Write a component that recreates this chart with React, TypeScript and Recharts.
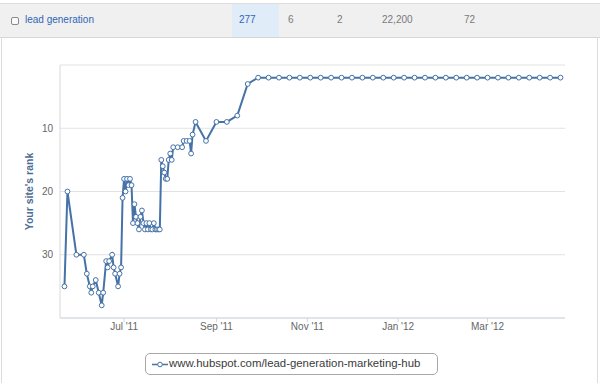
import React from 'react';
import { LineChart, Line, XAxis, YAxis, CartesianGrid } from 'recharts';

// rank history for the keyword
const DATES = [
  '2011-05-22', '2011-05-24', '2011-05-30', '2011-06-04', '2011-06-06', '2011-06-08',
  '2011-06-09', '2011-06-10', '2011-06-12', '2011-06-14', '2011-06-16', '2011-06-17',
  '2011-06-19', '2011-06-20', '2011-06-21', '2011-06-23', '2011-06-24', '2011-06-25',
  '2011-06-27', '2011-06-28', '2011-06-29', '2011-06-30', '2011-07-01', '2011-07-02',
  '2011-07-03', '2011-07-04', '2011-07-05', '2011-07-06', '2011-07-07', '2011-07-08',
  '2011-07-09', '2011-07-10', '2011-07-11', '2011-07-12', '2011-07-13', '2011-07-14',
  '2011-07-15', '2011-07-16', '2011-07-17', '2011-07-18', '2011-07-19', '2011-07-20',
  '2011-07-21', '2011-07-22', '2011-07-23', '2011-07-24', '2011-07-25', '2011-07-26',
  '2011-07-27', '2011-07-28', '2011-07-29', '2011-07-30', '2011-07-31', '2011-08-01',
  '2011-08-02', '2011-08-03', '2011-08-06', '2011-08-09', '2011-08-10', '2011-08-12',
  '2011-08-14', '2011-08-15', '2011-08-16', '2011-08-18', '2011-08-25', '2011-09-01',
  '2011-09-08', '2011-09-15', '2011-09-22', '2011-09-29', '2011-10-06', '2011-10-13',
  '2011-10-20', '2011-10-27', '2011-11-03', '2011-11-10', '2011-11-17', '2011-11-24',
  '2011-12-01', '2011-12-08', '2011-12-15', '2011-12-22', '2011-12-29', '2012-01-05',
  '2012-01-12', '2012-01-19', '2012-01-26', '2012-02-02', '2012-02-09', '2012-02-16',
  '2012-02-23', '2012-03-01', '2012-03-08', '2012-03-15', '2012-03-22', '2012-03-29',
  '2012-04-05', '2012-04-12', '2012-04-19',
];

const RANKS = [
  35, 20, 30, 30, 33, 35,
  36, 35, 34, 36, 38, 36,
  31, 32, 31, 30, 32, 33,
  35, 33, 32, 21, 18, 20,
  18, 19, 18, 19, 25, 22,
  24, 25, 26, 24, 23, 25,
  26, 25, 26, 25, 26, 26,
  25, 26, 26, 26, 26, 15,
  16, 17, 18, 18, 15, 14,
  15, 13, 13, 13, 12, 12,
  12, 14, 11, 9, 12, 9,
  9, 8, 3, 2, 2, 2,
  2, 2, 2, 2, 2, 2,
  2, 2, 2, 2, 2, 2,
  2, 2, 2, 2, 2, 2,
  2, 2, 2, 2, 2, 2,
  2, 2, 2,
];

const X_DOMAIN = ['2011-05-19', '2012-04-22'];
const X_TICKS = ['2011-07-01', '2011-09-01', '2011-11-01', '2012-01-01', '2012-03-01'];
const Y_TICKS = [10, 20, 30];
const MONTHS = ['Jan', 'Feb', 'Mar', 'Apr', 'May', 'Jun', 'Jul', 'Aug', 'Sep', 'Oct', 'Nov', 'Dec'];

const SERIES_NAME = 'www.hubspot.com/lead-generation-marketing-hub';
const KEYWORD = 'lead generation';
const ROW_VALUES = ['277', '6', '2', '22,200', '72'];

const LINE = '#4572a7';
const FONT = '"Liberation Sans", Arial, sans-serif';

const toTime = (s: string) => {
  const [y, m, d] = s.split('-').map(Number);
  return Date.UTC(y, m - 1, d);
};

const fmtMonth = (t: number) => {
  const dt = new Date(t);
  return `${MONTHS[dt.getUTCMonth()]} '${String(dt.getUTCFullYear()).slice(2)}`;
};

const data = DATES.map((d, i) => ({ t: toTime(d), rank: RANKS[i] }));

// positions of the cells in the keyword row
const CELL_X = [239, 288, 337, 382, 464];

function KeywordRow() {
  return (
    <div
      style={{
        position: 'absolute',
        top: 3,
        left: 0,
        width: 600,
        height: 33,
        background: '#f0f0f0',
        borderTop: '1px solid #dedede',
        borderBottom: '1px solid #d6d6d6',
        fontSize: 10,
      }}
    >
      <div style={{ position: 'absolute', left: 232, top: 0, width: 47, height: 33, background: '#e1ecf9' }} />
      <div
        style={{
          position: 'absolute',
          left: 11,
          top: 13,
          width: 6,
          height: 6,
          border: '1px solid #8a8a8a',
          borderRadius: 2,
          background: '#fafafa',
        }}
      />
      <span style={{ position: 'absolute', left: 25, top: 10, color: '#2f66b8' }}>{KEYWORD}</span>
      {ROW_VALUES.map((v, i) => (
        <span
          key={v + i}
          style={{ position: 'absolute', left: CELL_X[i], top: 10, color: i === 0 ? '#2f66b8' : '#7a7a7a' }}
        >
          {v}
        </span>
      ))}
    </div>
  );
}

function SeriesLegend() {
  return (
    <div
      style={{
        position: 'absolute',
        left: 145,
        top: 353,
        width: 291,
        height: 20,
        border: '1px solid #a8a8a8',
        borderRadius: 5,
        background: '#fff',
      }}
    >
      <svg width={18} height={20} style={{ position: 'absolute', left: 6, top: 0 }}>
        <line x1={0} y1={10.5} x2={16} y2={10.5} stroke={LINE} strokeWidth={1.5} />
        <circle cx={8} cy={10.5} r={2.3} fill="#fff" stroke={LINE} strokeWidth={1} />
      </svg>
      <span
        style={{
          position: 'absolute',
          left: 23,
          top: 3,
          fontSize: 11.4,
          color: '#3a3a3a',
          whiteSpace: 'nowrap',
        }}
      >
        {SERIES_NAME}
      </span>
    </div>
  );
}

export default function App() {
  return (
    <div
      style={{
        position: 'absolute',
        top: 0,
        left: 0,
        width: 600,
        height: 383,
        background: '#fff',
        overflow: 'hidden',
        fontFamily: FONT,
      }}
    >
      <KeywordRow />
      <div style={{ position: 'absolute', left: 1, top: 37, width: 1, height: 346, background: '#dcdcdc' }} />
      <div style={{ position: 'absolute', left: 597, top: 37, width: 1, height: 346, background: '#dcdcdc' }} />

      <div style={{ position: 'absolute', left: 0, top: 0 }}>
        <LineChart
          width={600}
          height={383}
          data={data}
          margin={{ top: 65, right: 35, bottom: 35, left: 0 }}
          style={{ fontFamily: FONT }}
        >
          <CartesianGrid vertical={false} stroke="#e2e2e2" />

          {/* X Axis = date */}
          <XAxis
            dataKey="t"
            type="number"
            scale="time"
            domain={[toTime(X_DOMAIN[0]), toTime(X_DOMAIN[1])]}
            ticks={X_TICKS.map(toTime)}
            tickFormatter={fmtMonth}
            height={30}
            stroke="#d0d8e0"
            tickSize={4}
            tickMargin={1}
            tick={{ fill: '#666', fontSize: 10 }}
          />

          {/* Y Axis = rank, 1 on top */}
          <YAxis
            reversed
            type="number"
            domain={[0, 40]}
            ticks={Y_TICKS}
            width={60}
            axisLine={{ stroke: '#d8d8d8' }}
            tickLine={false}
            tickSize={0}
            tickMargin={7}
            tick={{ fill: '#666', fontSize: 10 }}
            label={(props: any) => {
              const vb = props.viewBox || { x: 0, y: 65, height: 253 };
              const cx = vb.x + 29;
              const cy = vb.y + vb.height / 2;
              return (
                <text
                  x={cx}
                  y={cy}
                  transform={`rotate(-90 ${cx} ${cy})`}
                  textAnchor="middle"
                  dominantBaseline="central"
                  fill="#4d6d94"
                  fontSize={10.5}
                  fontWeight="bold"
                >
                  Your site's rank
                </text>
              );
            }}
          />

          <Line
            type="linear"
            dataKey="rank"
            name={SERIES_NAME}
            stroke={LINE}
            strokeWidth={2}
            dot={{ r: 2.4, fill: '#fff', stroke: LINE, strokeWidth: 1 }}
            activeDot={false}
            isAnimationActive={false}
          />
        </LineChart>
      </div>

      <SeriesLegend />
    </div>
  );
}
